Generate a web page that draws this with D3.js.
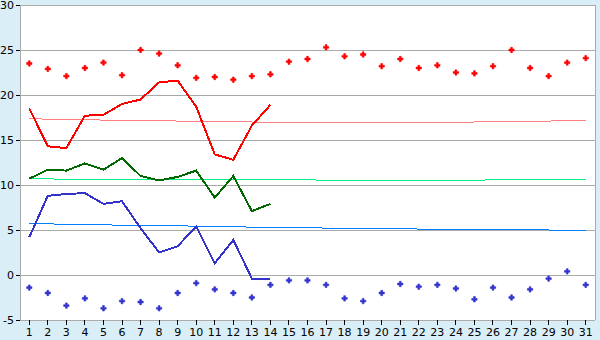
<!DOCTYPE html>
<html><head><meta charset="utf-8">
<script src="https://cdn.jsdelivr.net/npm/d3@7"></script>
<style>
body{margin:0;background:#d9eef6;}
svg{display:block;}
text{font-family:"DejaVu Sans",Verdana,sans-serif;font-size:11px;fill:#000;}
</style></head>
<body><svg id="c" width="600" height="340"></svg>
<script>
const days = d3.range(1, 32);
const yTicks = [-5, 0, 5, 10, 15, 20, 25, 30];
const recordMax = [23.5,22.9,22.1,23.0,23.6,22.2,25.0,24.6,23.3,21.9,22.0,21.7,22.1,22.3,23.7,24.0,25.3,24.3,24.5,23.2,24.0,23.0,23.3,22.5,22.4,23.2,25.0,23.0,22.1,23.6,24.1];
const dailyMax = [18.5,14.3,14.1,17.7,17.8,19.0,19.5,21.4,21.6,18.7,13.4,12.8,16.6,18.9];
const normalMax = [17.4,17.3,17.3,17.3,17.2,17.2,17.2,17.2,17.1,17.1,17.1,17.1,17.0,17.0,17.0,17.0,17.0,17.0,17.0,17.0,17.0,17.0,17.0,17.0,17.0,17.1,17.1,17.1,17.1,17.2,17.2];
const dailyMean = [10.7,11.7,11.6,12.4,11.7,13.0,11.0,10.5,10.9,11.6,8.6,11.0,7.1,7.9];
const normalMean = [10.7,10.7,10.6,10.6,10.6,10.6,10.6,10.6,10.6,10.6,10.6,10.6,10.6,10.6,10.6,10.6,10.5,10.5,10.5,10.5,10.5,10.5,10.5,10.5,10.5,10.6,10.6,10.6,10.6,10.6,10.6];
const dailyMin = [4.2,8.8,9.0,9.1,7.9,8.2,5.2,2.5,3.2,5.4,1.3,3.9,-0.4,-0.4];
const normalMin = [5.7,5.7,5.6,5.6,5.6,5.5,5.5,5.5,5.5,5.4,5.4,5.4,5.3,5.3,5.3,5.3,5.2,5.2,5.2,5.2,5.2,5.1,5.1,5.1,5.1,5.1,5.1,5.1,5.0,5.0,5.0];
const recordMin = [-1.4,-2.0,-3.4,-2.6,-3.7,-2.9,-3.0,-3.7,-2.0,-0.9,-1.6,-2.0,-2.5,-1.1,-0.6,-0.6,-1.1,-2.6,-2.9,-2.0,-1.0,-1.3,-1.1,-1.5,-2.7,-1.4,-2.5,-1.6,-0.4,0.4,-1.1];

const svg = d3.select("#c");
const L = 20, R = 595, T = 5, B = 320;
const x = d3.scaleBand().domain(days).range([L, R]).padding(0);
const cx = d => x(d) + x.bandwidth() / 2;
const y = d3.scaleLinear().domain([-5, 30]).range([B, T]);

svg.append("rect").attr("x", L).attr("y", T).attr("width", R - L).attr("height", B - T).attr("fill", "#fff");

// gridlines
const grid = svg.append("g")
  .attr("transform", `translate(${L},0)`)
  .call(d3.axisRight(y).tickValues(yTicks).tickSize(R - L).tickFormat(""));
grid.select(".domain").remove();
grid.selectAll("line").attr("stroke", "#aaaaaa").attr("shape-rendering", "crispEdges");

// left axis
const ya = svg.append("g").attr("transform", `translate(${L},0)`)
  .call(d3.axisLeft(y).tickValues(yTicks).tickSize(4).tickPadding(2).tickFormat(d => String(d)));
ya.select(".domain").attr("stroke", "#aaaaaa").attr("d", `M0.5,${T}V${B}`).attr("shape-rendering", "crispEdges");
ya.selectAll("line").attr("stroke", "#000").attr("shape-rendering", "crispEdges");
ya.selectAll("text").attr("font-size", 11).attr("font-family", "DejaVu Sans");

// right border
svg.append("line").attr("x1", R).attr("x2", R).attr("y1", T).attr("y2", B)
  .attr("stroke", "#aaaaaa").attr("shape-rendering", "crispEdges");

// bottom axis
const xa = svg.append("g").attr("transform", `translate(0,${B})`)
  .call(d3.axisBottom(x).tickSize(5).tickPadding(3));
xa.select(".domain").remove();
xa.selectAll("line").attr("stroke", "#000").attr("shape-rendering", "crispEdges");
xa.selectAll("text").attr("font-size", 11).attr("font-family", "DejaVu Sans");

function drawLine(vals, color, width) {
  const line = d3.line().x((v, i) => cx(days[i])).y(v => y(v));
  svg.append("path").datum(vals).attr("d", line).attr("fill", "none")
    .attr("stroke", color).attr("stroke-width", width)
    .attr("shape-rendering", "crispEdges").attr("stroke-linejoin", "miter");
}
function drawDots(vals, color) {
  const sym = d3.symbol().type(d3.symbolCross).size(16);
  svg.append("g").selectAll("path").data(vals).join("path")
    .attr("d", sym).attr("transform", (v, i) => `translate(${cx(days[i])},${y(v)})`)
    .attr("fill", color).attr("stroke", color).attr("stroke-width", 0.6);
}

drawLine(normalMax, "#ff8080", 1);
drawLine(normalMean, "#00f080", 1);
drawLine(normalMin, "#0080ff", 1);
drawLine(dailyMax, "#ff0000", 2);
drawLine(dailyMean, "#006600", 2);
drawLine(dailyMin, "#3333cc", 2);
drawDots(recordMax, "#ff0000");
drawDots(recordMin, "#3333cc");
</script></body></html>
